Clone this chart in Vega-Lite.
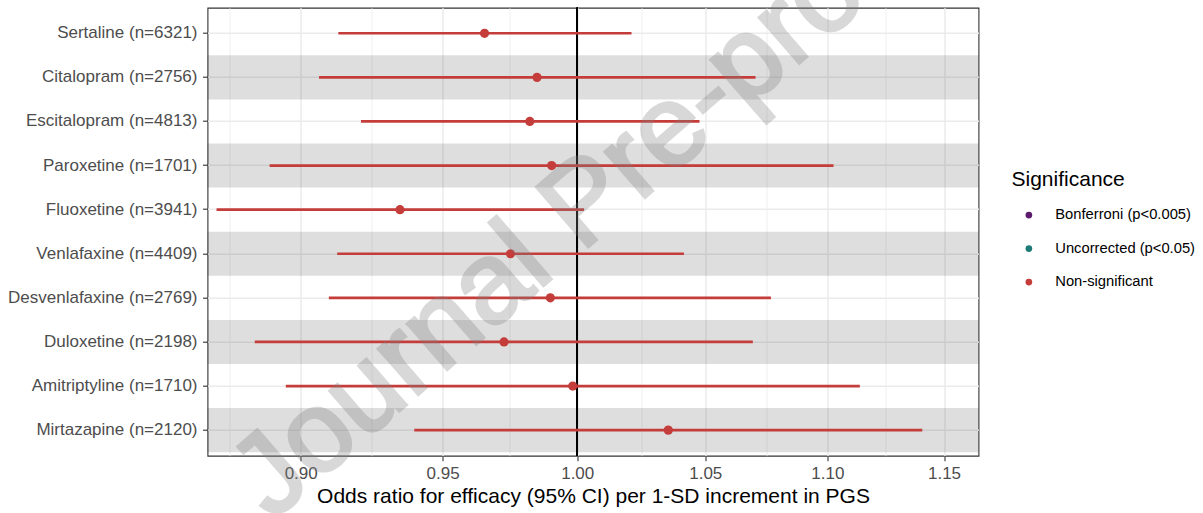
{
  "$schema": "https://vega.github.io/schema/vega-lite/v6.json",
  "width": 771,
  "height": 448,
  "autosize": {"type": "none"},
  "padding": {"left": 207.5, "top": 7.7, "right": 224.5, "bottom": 57.3},
  "background": "white",
  "config": {
    "font": "Liberation Sans",
    "view": {"stroke": "#333333", "strokeWidth": 1.1},
    "axis": {
      "domain": false,
      "zindex": 0,
      "tickColor": "#333333",
      "tickWidth": 1.1,
      "tickSize": 5,
      "labelColor": "#4D4D4D",
      "labelFontSize": 17,
      "labelLimit": 400,
      "gridColor": "#EBEBEB",
      "gridWidth": 1.5,
      "titleFontWeight": "normal",
      "titleColor": "#000000",
      "titleFontSize": 21
    },
    "axisY": {"bandPosition": 0.5, "labelPadding": 5.5, "grid": true, "title": null, "zindex": 0}
  },
  "data": {
    "values": [
      {"drug": "Sertaline (n=6321)", "or": 0.9653, "lower": 0.9130, "upper": 1.0209, "significance": "Non-significant"},
      {"drug": "Citalopram (n=2756)", "or": 0.9848, "lower": 0.9063, "upper": 1.0703, "significance": "Non-significant"},
      {"drug": "Escitalopram (n=4813)", "or": 0.9821, "lower": 0.9209, "upper": 1.0477, "significance": "Non-significant"},
      {"drug": "Paroxetine (n=1701)", "or": 0.9903, "lower": 0.8894, "upper": 1.1026, "significance": "Non-significant"},
      {"drug": "Fluoxetine (n=3941)", "or": 0.9347, "lower": 0.8716, "upper": 1.0026, "significance": "Non-significant"},
      {"drug": "Venlafaxine (n=4409)", "or": 0.9749, "lower": 0.9126, "upper": 1.0415, "significance": "Non-significant"},
      {"drug": "Desvenlafaxine (n=2769)", "or": 0.9898, "lower": 0.9097, "upper": 1.0766, "significance": "Non-significant"},
      {"drug": "Duloxetine (n=2198)", "or": 0.9725, "lower": 0.8844, "upper": 1.0692, "significance": "Non-significant"},
      {"drug": "Amitriptyline (n=1710)", "or": 0.9983, "lower": 0.8949, "upper": 1.1137, "significance": "Non-significant"},
      {"drug": "Mirtazapine (n=2120)", "or": 1.0353, "lower": 0.9398, "upper": 1.1405, "significance": "Non-significant"}
    ]
  },
  "resolve": {"axis": {"x": "independent"}},
  "layer": [
    {
      "transform": [{"filter": {"field": "drug", "oneOf": ["Citalopram (n=2756)", "Paroxetine (n=1701)", "Venlafaxine (n=4409)", "Duloxetine (n=2198)", "Mirtazapine (n=2120)"]}}],
      "mark": {"type": "rect", "color": "#000000", "opacity": 0.13},
      "encoding": {
        "y": {
          "field": "drug", "type": "nominal",
          "scale": {
            "domain": ["Sertaline (n=6321)", "Citalopram (n=2756)", "Escitalopram (n=4813)", "Paroxetine (n=1701)", "Fluoxetine (n=3941)", "Venlafaxine (n=4409)", "Desvenlafaxine (n=2769)", "Duloxetine (n=2198)", "Amitriptyline (n=1710)", "Mirtazapine (n=2120)"],
            "paddingInner": 0, "paddingOuter": 0.08
          },
          "axis": {"title": null, "bandPosition": 0.5, "labelPadding": 5.5, "grid": true, "zindex": 0, "labelLimit": 400}
        },
        "x": {
          "datum": 0.8686, "type": "quantitative",
          "scale": {"type": "log", "domain": [0.8686, 1.1652], "nice": false, "zero": false},
          "axis": {"orient": "bottom", "zindex": 0, "values": [0.8760, 0.92466, 0.97468, 1.02470, 1.07471, 1.12472], "grid": true, "gridWidth": 0.8, "ticks": false, "labels": false, "domain": false, "title": null}
        },
        "x2": {"datum": 1.1652}
      }
    },
    {
      "mark": {"type": "rule", "color": "#000000", "strokeWidth": 1.5},
      "encoding": {
        "x": {"datum": 1, "type": "quantitative", "axis": null}
      }
    },
    {
      "mark": {"type": "rule", "strokeWidth": 2.7, "color": "#C43D3A"},
      "encoding": {
        "y": {"field": "drug", "type": "nominal"},
        "x": {
          "field": "lower", "type": "quantitative",
          "axis": {"orient": "bottom", "zindex": 0, "values": [0.9, 0.95, 1.0, 1.05, 1.1, 1.15], "format": ".2f", "grid": true, "labelPadding": 4.6, "titlePadding": 4, "title": "Odds ratio for efficacy (95% CI) per 1-SD increment in PGS"}
        },
        "x2": {"field": "upper"}
      }
    },
    {
      "mark": {"type": "circle", "size": 85, "opacity": 1},
      "encoding": {
        "y": {"field": "drug", "type": "nominal"},
        "x": {"field": "or", "type": "quantitative", "axis": null},
        "color": {
          "field": "significance", "type": "nominal",
          "scale": {"domain": ["Bonferroni (p<0.005)", "Uncorrected (p<0.05)", "Non-significant"], "range": ["#5C1A6E", "#1D7B78", "#C43D3A"]},
          "legend": {
            "title": "Significance",
            "orient": "none",
            "legendX": 804,
            "legendY": 161,
            "padding": 0,
            "titleFontSize": 21,
            "titleFontWeight": "normal",
            "titleColor": "#000000",
            "titlePadding": 18,
            "labelFontSize": 14.75,
            "labelColor": "#000000",
            "symbolSize": 45,
            "symbolType": "circle",
            "symbolOffset": 10,
            "labelOffset": 19,
            "rowPadding": 17.5
          }
        }
      }
    },
    {
      "data": {"values": [{"watermark": "Journal Pre-proof"}]},
      "mark": {"type": "text", "fontSize": 115, "angle": -41, "align": "center", "baseline": "middle", "fill": "#808080", "stroke": "#808080", "strokeWidth": 3, "opacity": 0.3, "dy": -8},
      "encoding": {
        "text": {"field": "watermark"},
        "x": {"datum": 1.00485, "type": "quantitative", "axis": null},
        "y": {"datum": "Fluoxetine (n=3941)", "type": "nominal"}
      }
    }
  ]
}
